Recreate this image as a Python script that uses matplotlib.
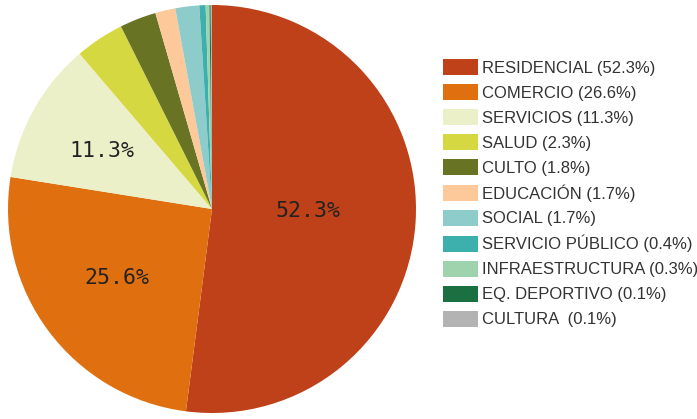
import numpy as np
import matplotlib.pyplot as plt

# datos del grafico
categorias = ['RESIDENCIAL', 'COMERCIO', 'SERVICIOS', 'SALUD', 'CULTO', 'EDUCACIÓN',
              'SOCIAL', 'SERVICIO PÚBLICO', 'INFRAESTRUCTURA', 'EQ. DEPORTIVO', 'CULTURA']
valores_pie = [52.3, 25.6, 11.3, 3.9, 2.9, 1.6, 1.9, 0.5, 0.3, 0.1, 0.1]
etiquetas_leyenda = ['RESIDENCIAL (52.3%)', 'COMERCIO (26.6%)', 'SERVICIOS (11.3%)',
                     'SALUD (2.3%)', 'CULTO (1.8%)', 'EDUCACIÓN (1.7%)', 'SOCIAL (1.7%)',
                     'SERVICIO PÚBLICO (0.4%)', 'INFRAESTRUCTURA (0.3%)',
                     'EQ. DEPORTIVO (0.1%)', 'CULTURA  (0.1%)']
etiquetas_pie = ['52.3%', '25.6%', '11.3%']
colores = ['#BF4119', '#E0700F', '#EBF0C8', '#D5D840', '#687423', '#FDC99A',
           '#8ECCCC', '#3DB0AE', '#9ED3AD', '#1A7040', '#B3B3B3']

fig = plt.figure(figsize=(6.97, 4.19), dpi=100)
ax = fig.add_axes([0, 0, 1, 1])

cx, cy, r = 212, 419 - 209, 204
wedges, _ = ax.pie(valores_pie, colors=colores, startangle=90, counterclock=False,
                   center=(cx, cy), radius=r, frame=True)
ax.set_xlim(0, 697)
ax.set_ylim(0, 419)
ax.set_aspect('equal')
ax.axis('off')

# etiquetas dentro de las porciones grandes (distancia, ajuste vertical)
distancias = [0.47, 0.58, 0.62]
ajustes = [4, 2, -4]
for w, txt, d, dy in zip(wedges[:3], etiquetas_pie, distancias, ajustes):
    ang = np.deg2rad((w.theta1 + w.theta2) / 2)
    ax.text(cx + d * r * np.cos(ang), cy + d * r * np.sin(ang) + dy, txt,
            ha='center', va='center', fontsize=15.5, family='DejaVu Sans Mono',
            color='#222222')

leg = fig.legend(wedges, etiquetas_leyenda, loc='upper left',
                 bbox_to_anchor=(443 / 697, 1 - 59 / 419), frameon=False,
                 prop={'family': ['Liberation Sans', 'DejaVu Sans'], 'size': 12},
                 handlelength=2.1, handleheight=1.1, labelspacing=0.5,
                 handletextpad=0.25, borderaxespad=0, borderpad=0)
for t in leg.get_texts():
    t.set_color('#333333')

fig.savefig('out.png', dpi=100)
